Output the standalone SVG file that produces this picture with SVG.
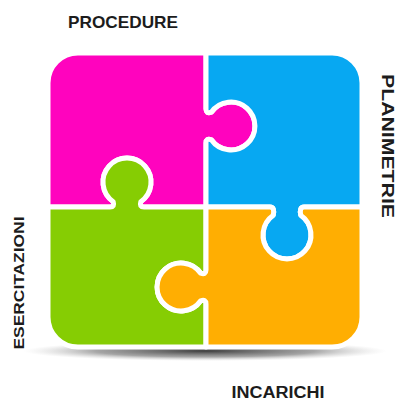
<svg xmlns="http://www.w3.org/2000/svg" width="398" height="403" viewBox="0 0 398 403">
<style>
.piece{stroke:#fff;stroke-width:5;stroke-linejoin:round}
.lbl{font-family:"Liberation Sans",Arial,sans-serif;font-weight:bold;fill:#1c1c1c}
</style>
<defs>
<radialGradient id="sh" cx="0.5" cy="0.5" r="0.5">
<stop offset="0" stop-color="#333" stop-opacity="0.95"/>
<stop offset="0.6" stop-color="#888" stop-opacity="0.75"/>
<stop offset="1" stop-color="#ccc" stop-opacity="0"/>
</radialGradient>
</defs>
<rect width="398" height="403" fill="#fff"/>
<ellipse cx="205" cy="351" rx="182" ry="10" fill="url(#sh)"/>
<g id="pieces">
<g id="procedure-piece">
<path class="piece" fill="#FF03BE" d="M48,83 A30,30 0 0 1 78,53 H206 V109 Q206,114 211.3,112.2 A24,24 0 1 1 211.3,139.8 Q206,138 206,143 V207 H144 Q139,207 140.8,201.7 A24,24 0 1 0 113.2,201.7 Q115,207 110,207 H48 Z"/>
</g>
<g id="planimetrie-piece">
<path class="piece" fill="#07A8F2" d="M206,53 H332 A30,30 0 0 1 362,83 V207 H304 Q299,207 300.8,215.3 A24,24 0 1 1 273.2,215.3 Q275,207 270,207 H206 V143 Q206,138 211.3,139.8 A24,24 0 1 0 211.3,112.2 Q206,114 206,109 Z"/>
</g>
<g id="esercitazioni-piece">
<path class="piece" fill="#86CD03" d="M48,207 H110 Q115,207 113.2,201.7 A24,24 0 1 1 140.8,201.7 Q139,207 144,207 H206 V270 Q206,275 200.7,273.2 A24,24 0 1 0 200.7,300.8 Q206,299 206,304 V347 H78 A30,30 0 0 1 48,317 Z"/>
</g>
<g id="incarichi-piece">
<path class="piece" fill="#FFAE02" d="M206,207 H270 Q275,207 273.2,215.3 A24,24 0 1 0 300.8,215.3 Q299,207 304,207 H362 V317 A30,30 0 0 1 332,347 H206 V304 Q206,299 200.7,300.8 A24,24 0 1 1 200.7,273.2 Q206,275 206,270 Z"/>
</g>
</g>
<g id="labels">
<text class="lbl" x="123" y="28" font-size="16.5" text-anchor="middle" textLength="110" lengthAdjust="spacingAndGlyphs">PROCEDURE</text>
<text class="lbl" transform="translate(382,146) rotate(90)" x="0" y="0" font-size="17" text-anchor="middle" textLength="144" lengthAdjust="spacingAndGlyphs">PLANIMETRIE</text>
<text class="lbl" transform="translate(24,283) rotate(-90)" x="0" y="0" font-size="15.5" text-anchor="middle" textLength="133" lengthAdjust="spacingAndGlyphs">ESERCITAZIONI</text>
<text class="lbl" x="278" y="398" font-size="16" text-anchor="middle" textLength="93" lengthAdjust="spacingAndGlyphs">INCARICHI</text>
</g>
</svg>
